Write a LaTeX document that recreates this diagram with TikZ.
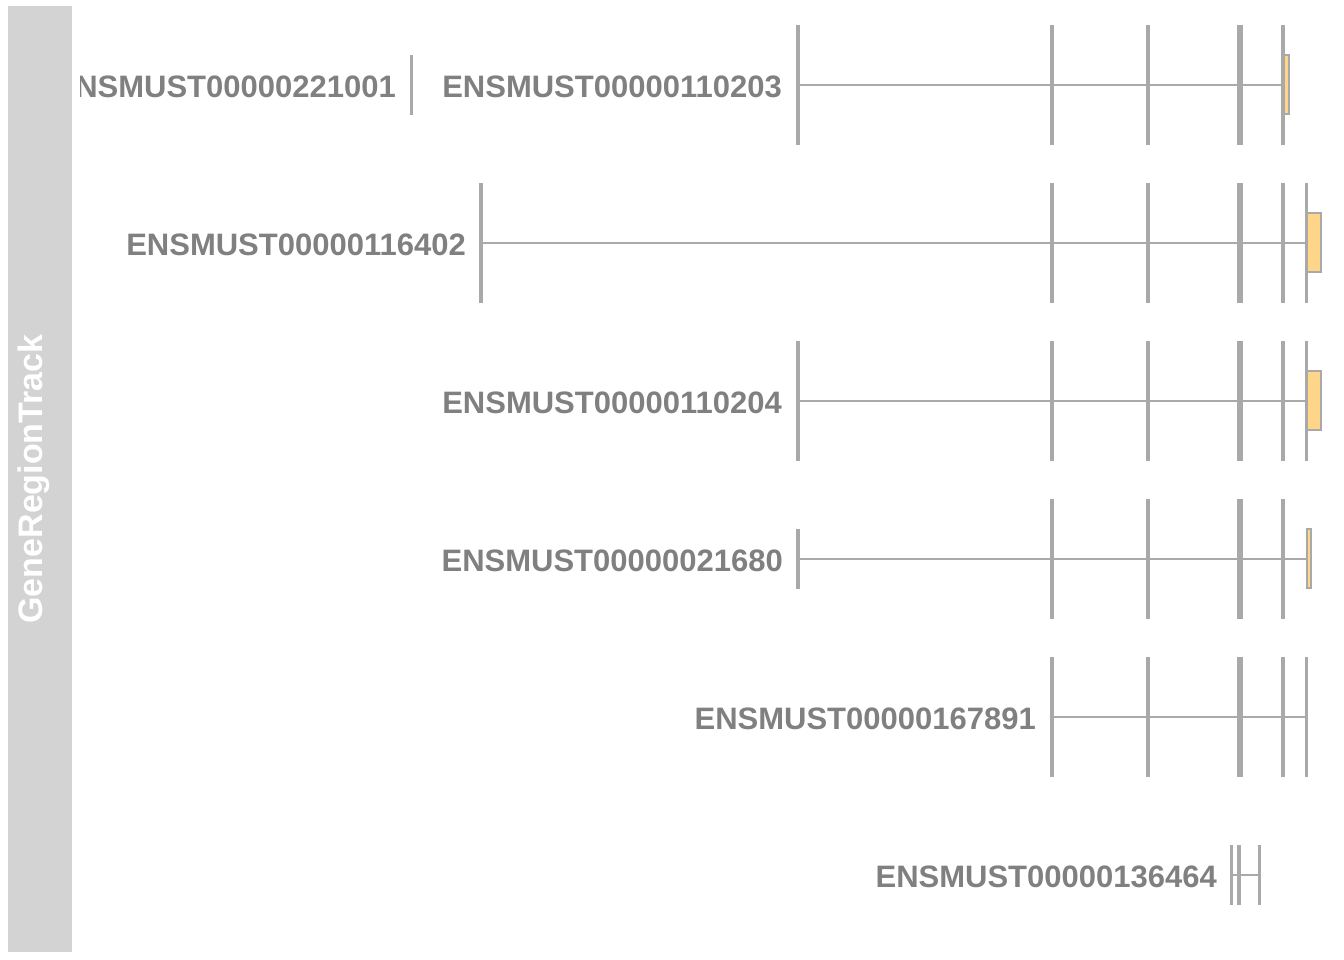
\documentclass[tikz,border=0pt]{standalone}
\usepackage{fontspec}
\setmainfont{Liberation Sans}
\usetikzlibrary{positioning}
\definecolor{trackgray}{HTML}{D3D3D3}
\definecolor{exongray}{HTML}{A9A9A9}
\definecolor{labelgray}{HTML}{808080}
\definecolor{utrfill}{HTML}{FFD58A}
\tikzset{
  txlabel/.style={anchor=east, text=labelgray, font=\fontsize{31}{31}\selectfont\bfseries, inner sep=0pt},
  intron/.style={draw=exongray, line width=1.5pt},
  exon/.style={fill=exongray},
  utr/.style={fill=utrfill, draw=exongray, line width=1.5pt}
}
\begin{document}
\begin{tikzpicture}[x=1pt,y=-1pt]
\useasboundingbox (0,0) rectangle (1344,960);

\fill[trackgray] (8,6) rectangle (72,952);
\node[rotate=90, text=white, font=\fontsize{34}{34}\selectfont\bfseries] (title) at (34,479) {GeneRegionTrack};

\begin{scope}
\clip (80,0) rectangle (1344,960);
\node[txlabel] (t221001) at (396,87) {ENSMUST00000221001};
\end{scope}
\fill[exongray] (410,55) rectangle (413,115);

% rows: label, y, start
\node[txlabel] (t110203) at (782,87) {ENSMUST00000110203};
\node[txlabel] (t116402) at (466,245) {ENSMUST00000116402};
\node[txlabel] (t110204) at (782,403) {ENSMUST00000110204};
\node[txlabel] (t021680) at (783,561) {ENSMUST00000021680};
\node[txlabel] (t167891) at (1036,719) {ENSMUST00000167891};
\node[txlabel] (t136464) at (1217,877) {ENSMUST00000136464};

% introns
\draw[intron] (798,85) -- (1283,85);
\draw[intron] (481,243) -- (1306,243);
\draw[intron] (798,401) -- (1306,401);
\draw[intron] (798,559) -- (1306,559);
\draw[intron] (1052,717) -- (1306,717);
\draw[intron] (1231,875) -- (1259,875);

% shared exons
\foreach \y in {85,243,401,559,717}{
  \fill[exon] (1050,\y-60) rectangle (1054,\y+60);
  \fill[exon] (1146,\y-60) rectangle (1150,\y+60);
  \fill[exon] (1237,\y-60) rectangle (1243,\y+60);
  \fill[exon] (1281,\y-60) rectangle (1285,\y+60);
}
\foreach \y in {243,401,717}
  \fill[exon] (1304.5,\y-60) rectangle (1307.5,\y+60);
\foreach \y in {85,401}
  \fill[exon] (796,\y-60) rectangle (800,\y+60);
\fill[exon] (479,183) rectangle (483,303);
\fill[exon] (796,529) rectangle (800,589);

% UTRs
\filldraw[utr] (1284,55) rectangle (1289,114);
\filldraw[utr] (1307,213) rectangle (1321,272);
\filldraw[utr] (1307,371) rectangle (1321,430);
\filldraw[utr] (1307,529) rectangle (1311,588);

% last transcript
\foreach \x/\w in {1231/3,1239/4,1259/3}
  \fill[exon] (\x-\w/2,845) rectangle (\x+\w/2,905);
\end{tikzpicture}
\end{document}
